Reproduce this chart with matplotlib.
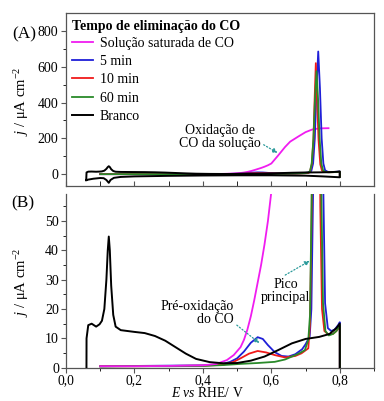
import numpy as np
import matplotlib
matplotlib.use("Agg")
import matplotlib.pyplot as plt

plt.rcParams['font.family'] = ['Liberation Serif', 'DejaVu Serif']
plt.rcParams['mathtext.fontset'] = 'custom'
plt.rcParams['mathtext.rm'] = 'Liberation Serif'
plt.rcParams['mathtext.it'] = 'Liberation Serif:italic'

# Branco (voltametria do eletrodo limpo): varredura anódica + catódica
branco_E_an = [0.059, 0.060, 0.065, 0.075, 0.088, 0.098, 0.105, 0.112, 0.118, 0.122,
               0.125, 0.128, 0.132, 0.138, 0.145, 0.16, 0.18, 0.20, 0.23, 0.26, 0.29,
               0.32, 0.35, 0.38, 0.42, 0.46, 0.50, 0.54, 0.58, 0.62, 0.66, 0.70,
               0.74, 0.77, 0.79, 0.80]
branco_j_an = [-33, 10, 14.5, 15, 14, 14.8, 16, 20, 30, 40,
               44.7, 40, 28, 18, 14, 12.8, 12.5, 12.2, 11.8, 10.8, 9.2,
               7.0, 4.8, 3.0, 1.9, 1.5, 1.6, 2.4, 3.8, 6.0, 8.3, 9.8,
               10.5, 11.5, 13.5, 15]
branco_E_cat = [0.80, 0.75, 0.70, 0.60, 0.50, 0.40, 0.30, 0.20, 0.16, 0.14, 0.13,
                0.125, 0.118, 0.11, 0.10, 0.08, 0.065, 0.059]
branco_j_cat = [-17, -12, -8, -6, -6, -7, -9, -12, -15, -20, -32,
                -48, -32, -22, -21, -25, -30, -33]

# Solução saturada de CO
sat_E = [0.10, 0.20, 0.30, 0.40, 0.44, 0.47, 0.49, 0.51, 0.52, 0.53, 0.54, 0.55,
         0.56, 0.57, 0.58, 0.59, 0.60, 0.62, 0.64, 0.655, 0.68, 0.70, 0.72, 0.74, 0.767]
sat_j = [0.5, 0.5, 0.6, 0.8, 1.3, 2.6, 4.3, 7.0, 9.5, 13, 17.5, 23,
         29, 35, 42, 50, 60, 105, 152, 182, 212, 235, 250, 256, 257]

# 5 min
m5_E = [0.10, 0.20, 0.30, 0.40, 0.45, 0.48, 0.50, 0.52, 0.54, 0.56, 0.575, 0.59,
        0.61, 0.63, 0.65, 0.67, 0.69, 0.70, 0.712, 0.717, 0.722, 0.727, 0.732,
        0.737, 0.742, 0.747, 0.752, 0.757, 0.765, 0.775, 0.785, 0.795, 0.80, 0.80]
m5_j = [0.5, 0.6, 0.7, 0.8, 1.0, 2.0, 3.2, 5.5, 8.5, 10.4, 9.8, 7.7,
        5.3, 4.0, 3.8, 4.6, 6.3, 8.0, 10.6, 20, 60, 200, 480,
        685, 480, 200, 60, 22, 13.5, 12.5, 13, 14.5, 15.5, -15]

# 10 min
m10_E = [0.10, 0.20, 0.30, 0.40, 0.46, 0.49, 0.51, 0.535, 0.56, 0.585, 0.61, 0.64,
         0.67, 0.688, 0.708, 0.713, 0.718, 0.723, 0.7265, 0.730, 0.7335, 0.738,
         0.743, 0.748, 0.755, 0.765, 0.78, 0.79, 0.80, 0.80]
m10_j = [0.5, 0.5, 0.6, 0.7, 1.0, 2.0, 3.2, 4.8, 5.7, 5.2, 4.3, 3.5,
         4.0, 4.9, 6.6, 15, 55, 190, 420, 620, 420, 190,
         55, 20, 12.5, 11.5, 11.5, 12.5, 14, -15]

# 60 min
m60_E = [0.10, 0.20, 0.30, 0.40, 0.46, 0.51, 0.56, 0.61, 0.64, 0.66, 0.68, 0.698,
         0.708, 0.713, 0.718, 0.723, 0.7275, 0.732, 0.7365, 0.741, 0.746, 0.751,
         0.758, 0.768, 0.78, 0.79, 0.80, 0.80]
m60_j = [0.4, 0.5, 0.5, 0.6, 0.9, 1.3, 1.6, 2.0, 2.8, 3.8, 4.8, 6.0,
         9.5, 18, 60, 200, 420, 575, 420, 200, 60, 22,
         12.5, 11, 11.5, 12.5, 14.5, -15]

x_ticks = [0.0, 0.2, 0.4, 0.6, 0.8]
x_labels = ['0,0', '0,2', '0,4', '0,6', '0,8']
yA_ticks = [0, 200, 400, 600, 800]
yB_ticks = [0, 10, 20, 30, 40, 50]

c_sat = '#f01cf0'
c_5 = '#1f1fd8'
c_10 = '#f01a1a'
c_60 = '#2a8a2a'
c_arrow = '#2a9a9a'
spine_c = '#555555'

fig = plt.figure(figsize=(3.84, 4.01), dpi=100)
axA = fig.add_axes([0.1719, 0.5369, 0.8021, 0.4307])
axB = fig.add_axes([0.1719, 0.0823, 0.8021, 0.4339])

branco_E = branco_E_an + branco_E_cat
branco_j = branco_j_an + branco_j_cat

for ax, z_sat in ((axA, 1.5), (axB, 2.9)):
    l_sat, = ax.plot(sat_E, sat_j, color=c_sat, lw=1.3, label='Solução saturada de CO', zorder=z_sat)
    l5, = ax.plot(m5_E, m5_j, color=c_5, lw=1.3, label='5 min', zorder=2.0)
    l10, = ax.plot(m10_E, m10_j, color=c_10, lw=1.3, label='10 min', zorder=2.2)
    l60, = ax.plot(m60_E, m60_j, color=c_60, lw=1.3, label='60 min', zorder=2.4)
    lb, = ax.plot(branco_E, branco_j, color='black', lw=1.4, label='Branco', zorder=3)
    ax.set_xlim(0, 0.9)
    ax.set_xticks(x_ticks)
    ax.set_xticks([0.1, 0.3, 0.5, 0.7, 0.9], minor=True)
    for s in ax.spines.values():
        s.set_color(spine_c)
        s.set_linewidth(0.9)
    ax.tick_params(colors=spine_c, labelcolor='black', labelsize=10)

# painel A
axA.set_ylim(-64, 900)
axA.set_yticks(yA_ticks)
axA.set_yticks([100, 300, 500, 700], minor=True)
axA.tick_params(axis='x', which='both', direction='in', length=3.5, labelbottom=False)
axA.tick_params(axis='y', which='major', direction='out', length=3.5, pad=2)
axA.tick_params(axis='y', which='minor', direction='out', length=2)
axA.set_ylabel(r'$\it{j}$ / μA cm$^{-2}$', fontsize=10.5)
axA.yaxis.set_label_coords(-0.115, 0.49)

leg = axA.legend(handles=[l_sat, l5, l10, l60, lb], loc='upper left',
                 bbox_to_anchor=(0.019, 0.962), frameon=False, fontsize=10,
                 title='Tempo de eliminação do CO', alignment='left',
                 handlelength=1.55, handletextpad=0.45, labelspacing=0.38,
                 borderpad=0, borderaxespad=0)
leg.get_title().set_fontweight('bold')
leg.get_title().set_fontsize(10)
leg._legend_box.sep = 3

axA.annotate('Oxidação de\nCO da solução', xy=(0.618, 119), xytext=(0.45, 210),
             ha='center', va='center', fontsize=10, linespacing=1.0,
             arrowprops=dict(arrowstyle='-|>', color=c_arrow, lw=0.9, ls=':',
                             mutation_scale=7, shrinkA=0, shrinkB=0,
                             relpos=(1.0, 0.25)))

# painel B
axB.set_ylim(-0.1, 59.2)
axB.set_yticks(yB_ticks)
axB.set_yticks([5, 15, 25, 35, 45, 55], minor=True)
axB.set_xticklabels(x_labels)
axB.spines['top'].set_visible(False)
axB.tick_params(axis='both', which='major', direction='out', length=3.5, pad=1.5)
axB.tick_params(axis='x', which='major', pad=0.8, labelsize=9.8)
axB.tick_params(axis='both', which='minor', direction='out', length=2)
axB.set_ylabel(r'$\it{j}$ / μA cm$^{-2}$', fontsize=10.5)
axB.yaxis.set_label_coords(-0.115, 0.49)
axB.set_xlabel(r'$\it{E}$ $\it{vs}$ RHE/ V', fontsize=9.8)
axB.xaxis.set_label_coords(0.46, -0.106)

axB.annotate('Pré-oxidação\ndo CO', xy=(0.565, 8.4), xytext=(0.491, 18.8),
             ha='right', va='center', fontsize=10, linespacing=1.0,
             arrowprops=dict(arrowstyle='-|>', color=c_arrow, lw=0.9, ls=':',
                             mutation_scale=7, shrinkA=0, shrinkB=0,
                             relpos=(1.0, 0.1)))
axB.annotate('Pico\nprincipal', xy=(0.712, 36.4), xytext=(0.641, 26.2),
             ha='center', va='center', fontsize=10, linespacing=1.0,
             arrowprops=dict(arrowstyle='-|>', color=c_arrow, lw=0.9, ls=':',
                             mutation_scale=7, shrinkA=0, shrinkB=0,
                             relpos=(0.4, 1.0)))

fig.text(0.0625, 0.913, '(A)', fontsize=12.5, ha='center', va='center')
fig.text(0.06, 0.494, '(B)', fontsize=12.5, ha='center', va='center')

fig.savefig('out.png', dpi=100)
